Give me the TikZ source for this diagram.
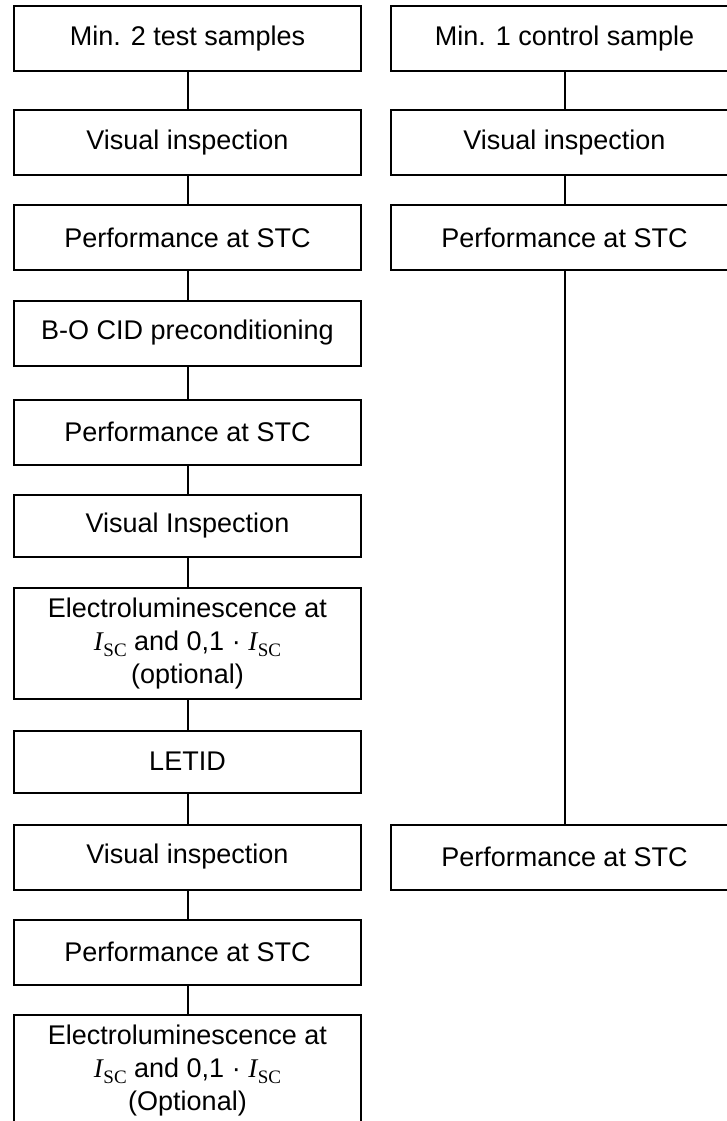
\documentclass[tikz,border=0pt]{standalone}
\usepackage{fontspec}
\setmainfont{Liberation Sans}
\newfontfamily\tnr{Liberation Serif}
\newcommand{\Isc}{{\tnr\itshape I}\kern0.5pt\raisebox{-0.22em}{\tnr\fontsize{19}{19}\selectfont SC}}
\begin{document}
\begin{tikzpicture}[x=1pt,y=-1pt,
  box/.style={draw, line width=2pt, minimum width=347pt, minimum height=65pt,
    inner sep=0pt, align=center, font=\fontsize{27}{33}\selectfont},
  tallbox/.style={box, minimum height=111pt},
  link/.style={line width=2pt}]
\clip (0,0) rectangle (727,1121);
\fill[white] (0,0) rectangle (727,1121);
% left column
\node[box] (b1) at (187.5,38.5) {Min. 2 test samples};
\node[box] (b2) at (187.5,142.75) {Visual inspection};
\node[box] (b3) at (187.5,237.5) {Performance at STC};
\node[box] (b4) at (187.5,333) {B-O CID preconditioning};
\node[box] (b5) at (187.5,432) {Performance at STC};
\node[box, minimum height=62pt] (b6) at (187.5,526) {Visual Inspection};
\node[tallbox] (b7) at (187.5,643.5) {Electroluminescence at\\\Isc{} and 0,1 · \Isc\\(optional)};
\node[box, minimum height=62pt] (b8) at (187.5,761.5) {LETID};
\node[box] (b9) at (187.5,857) {Visual inspection};
\node[box] (b10) at (187.5,952) {Performance at STC};
\node[tallbox] (b11) at (187.5,1070.5) {Electroluminescence at\\\Isc{} and 0,1 · \Isc\\(Optional)};
% right column
\node[box] (r1) at (564.5,38.5) {Min. 1 control sample};
\node[box] (r2) at (564.5,142.75) {Visual inspection};
\node[box] (r3) at (564.5,237.5) {Performance at STC};
\node[box] (r4) at (564.5,857) {Performance at STC};
% connectors
\foreach \a/\b in {b1/b2,b2/b3,b3/b4,b4/b5,b5/b6,b6/b7,b7/b8,b8/b9,b9/b10,b10/b11,r1/r2,r2/r3,r3/r4}
  \draw[link] (\a.south) -- (\b.north);
\end{tikzpicture}
\end{document}
